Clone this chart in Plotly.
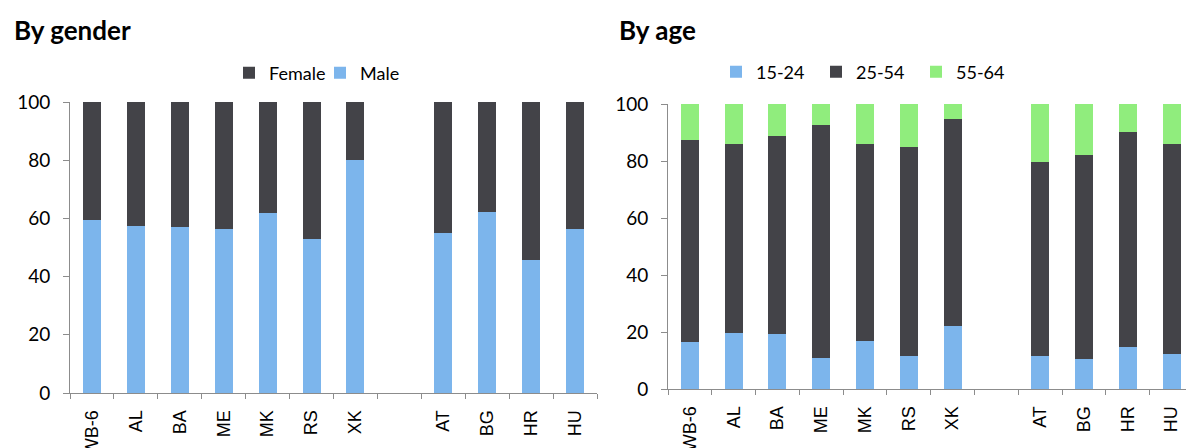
import plotly.graph_objects as go

# Countries (a blank slot separates the WB-6 group from the EU comparators)
countries = ["WB-6", "AL", "BA", "ME", "MK", "RS", "XK", " ", "AT", "BG", "HR", "HU"]

# Share of employment by gender, %
male = [59.3, 57.5, 56.9, 56.5, 62.0, 53.0, 80.1, None, 55.0, 62.3, 45.8, 56.5]
female = [40.7, 42.5, 43.1, 43.5, 38.0, 47.0, 19.9, None, 45.0, 37.7, 54.2, 43.5]

# Share of employment by age group, %
age_15_24 = [16.4, 19.8, 19.2, 10.9, 16.8, 11.6, 22.0, None, 11.6, 10.6, 14.7, 12.3]
age_25_54 = [70.9, 66.0, 69.4, 81.7, 69.2, 73.3, 72.7, None, 67.9, 71.6, 75.5, 73.5]
age_55_64 = [12.7, 14.2, 11.4, 7.4, 14.0, 15.1, 5.3, None, 20.5, 17.8, 9.8, 14.2]

BLUE = "#7cb5ec"
DARK = "#434348"
GREEN = "#90ed7d"
AXIS = "#8c8c8c"

W, H = 1186, 448

fig = go.Figure()

# Left panel: gender
fig.add_bar(x=countries, y=male, name="Male", marker_color=BLUE,
            xaxis="x", yaxis="y", legend="legend", legendrank=2)
fig.add_bar(x=countries, y=female, name="Female", marker_color=DARK,
            xaxis="x", yaxis="y", legend="legend", legendrank=1)

# Right panel: age
fig.add_bar(x=countries, y=age_15_24, name="15-24", marker_color=BLUE,
            xaxis="x2", yaxis="y2", legend="legend2")
fig.add_bar(x=countries, y=age_25_54, name="25-54", marker_color=DARK,
            xaxis="x2", yaxis="y2", legend="legend2")
fig.add_bar(x=countries, y=age_55_64, name="55-64", marker_color=GREEN,
            xaxis="x2", yaxis="y2", legend="legend2")

for tr in fig.data:
    tr.marker.line.width = 0

xcommon = dict(
    type="category", categoryorder="array", categoryarray=countries,
    tickson="boundaries", ticks="outside", ticklen=5, tickcolor=AXIS,
    showline=True, linecolor=AXIS, linewidth=1, showgrid=False,
    tickangle=-90, tickfont=dict(family="Liberation Sans", size=18, color="#000"),
    ticklabelstandoff=9, automargin=False, fixedrange=True,
)
ycommon = dict(
    range=[0, 100], dtick=20, ticks="outside", ticklen=6, tickcolor=AXIS,
    showline=True, linecolor=AXIS, linewidth=1, showgrid=False, zeroline=False,
    tickfont=dict(family="Lato", size=19, color="#000"),
    ticklabelstandoff=9, automargin=False, fixedrange=True,
)

legend_font = dict(family="Lato", size=18, color="#000")

fig.update_layout(
    width=W, height=H,
    margin=dict(l=0, r=0, t=0, b=0),
    paper_bgcolor="white", plot_bgcolor="white",
    barmode="stack", bargap=0.59,
    xaxis=dict(**xcommon, domain=[70 / W, 597 / W], anchor="y", range=[-0.5, 11.5]),
    yaxis=dict(**ycommon, domain=[1 - 393 / H, 1 - 102 / H], anchor="x"),
    xaxis2=dict(**xcommon, domain=[668 / W, 1.0], anchor="y2", range=[-0.5, 11.33]),
    yaxis2=dict(**ycommon, domain=[1 - 389 / H, 1 - 104 / H], anchor="x2"),
    legend=dict(orientation="h", x=229 / W, xanchor="left", y=1 - 73 / H, yanchor="middle",
                font=legend_font, entrywidth=46, traceorder="normal",
                bgcolor="rgba(0,0,0,0)"),
    legend2=dict(orientation="h", x=716 / W, xanchor="left", y=1 - 72 / H, yanchor="middle",
                 font=legend_font, entrywidth=55, traceorder="normal",
                 bgcolor="rgba(0,0,0,0)"),
    annotations=[
        dict(text="<b>By gender</b>", x=12 / W, y=1 - 30 / H, xref="paper", yref="paper",
             xanchor="left", yanchor="middle", showarrow=False,
             font=dict(family="Lato", size=26, color="#000")),
        dict(text="<b>By age</b>", x=617 / W, y=1 - 30 / H, xref="paper", yref="paper",
             xanchor="left", yanchor="middle", showarrow=False,
             font=dict(family="Lato", size=26, color="#000")),
    ],
)

fig.write_html("out.html", config={"displayModeBar": False})
